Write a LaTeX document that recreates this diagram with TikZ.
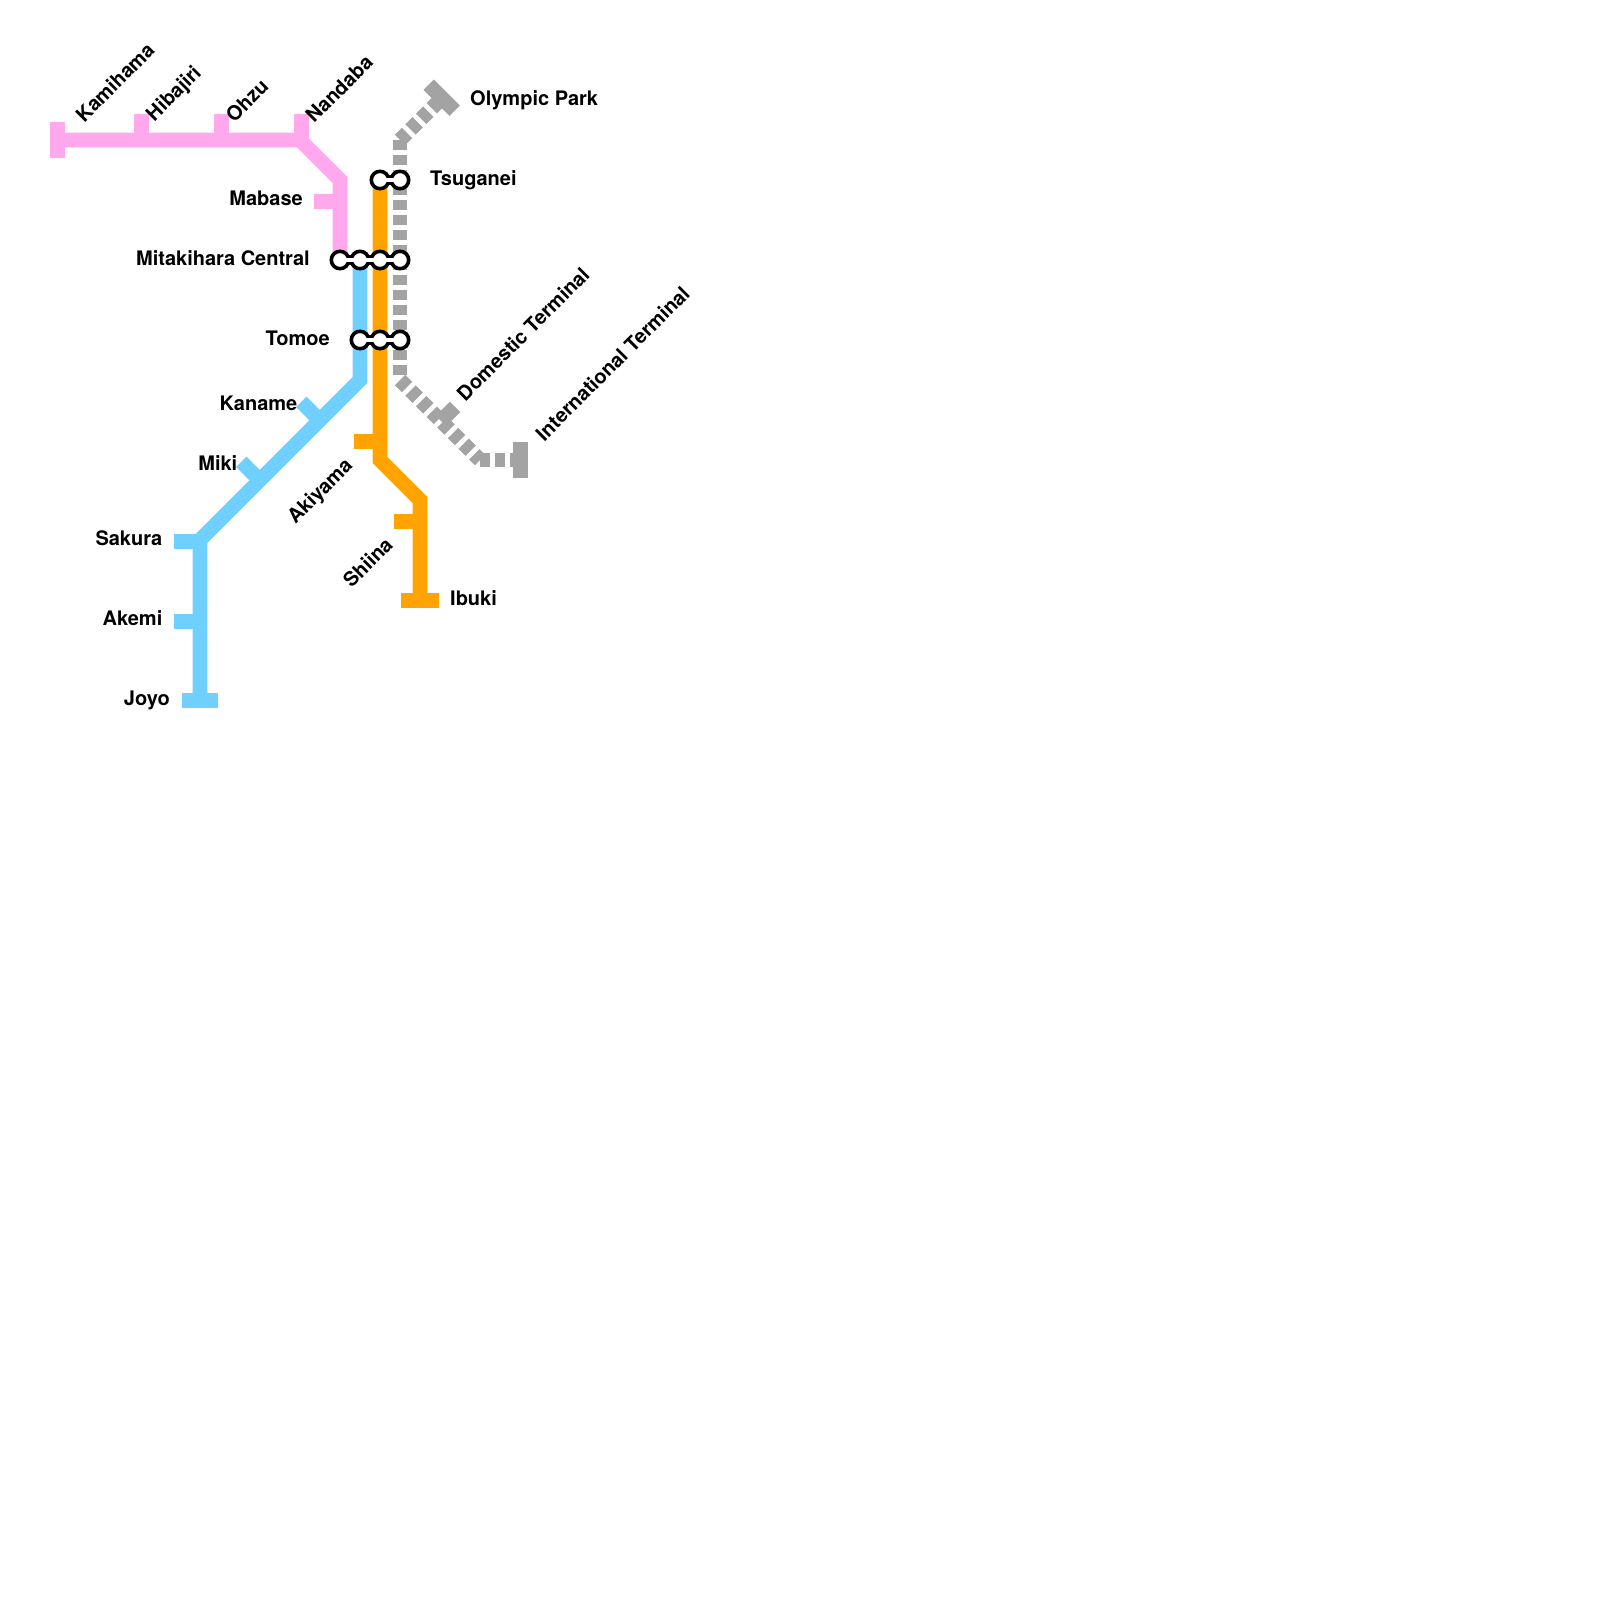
\documentclass[tikz,border=0pt]{standalone}
\usepackage{fontspec}
\setmainfont{TeX Gyre Heros}
\definecolor{pinkline}{HTML}{FFA8EE}
\definecolor{blueline}{HTML}{6FCFFF}
\definecolor{orangeline}{HTML}{FFA300}
\definecolor{grayline}{HTML}{A3A3A3}
\tikzset{
  x=1pt,y=-1pt,
  route/.style={line width=14.7pt,line join=miter,line cap=butt},
  pinkr/.style={route,draw=pinkline},
  bluer/.style={route,draw=blueline},
  oranger/.style={route,draw=orangeline},
  grayr/.style={route,draw=grayline,dash pattern=on 10pt off 5pt},
  grayt/.style={route,draw=grayline},
  hub/.style={circle,draw=black,fill=white,line width=3.6pt,minimum size=17.4pt,inner sep=0pt},
  neckout/.style={line width=10.5pt,draw=black},
  neckin/.style={line width=3.4pt,draw=white},
  lab/.style={inner sep=0pt,font=\fontsize{20pt}{22pt}\selectfont\bfseries,text=black},
  up/.style={lab,anchor=west,rotate=45},
}
\begin{document}
\begin{tikzpicture}
\useasboundingbox (0,0) rectangle (1600,1600);
% named coordinates
\coordinate (p0) at (60,140);\coordinate (p1) at (300,140);\coordinate (p2) at (340,180);\coordinate (p3) at (340,260);
\coordinate (b0) at (360,260);\coordinate (b1) at (360,380);\coordinate (b2) at (200,540);\coordinate (b3) at (200,700);
\coordinate (o0) at (380,180);\coordinate (o1) at (380,460);\coordinate (o2) at (420,500);\coordinate (o3) at (420,600);
\coordinate (g0) at (440,100);\coordinate (g1) at (400,140);\coordinate (g2) at (400,380);\coordinate (g3) at (480,460);\coordinate (g4) at (520,460);
% gray line
\draw[grayr] (g1) -- (g0);
\draw[grayr] (g1) -- (g2);
\draw[grayr] (g2) -- (g3);
\draw[grayr] (g3) -- (g4);
\draw[grayt] (428.7,84.7) -- (454.7,110.7);
\draw[grayt] (441,421) -- (455,407);
\draw[grayt] (520.5,441.7) -- (520.5,478.3);
% pink
\draw[pinkr] (p0) -- (p1) -- (p2) -- (p3);
\draw[pinkr] (57.5,121.7) -- (57.5,158.3);
\draw[pinkr] (141.3,114) -- (141.3,140);
\draw[pinkr] (221.3,114) -- (221.3,140);
\draw[pinkr] (301.3,114) -- (301.3,140);
\draw[pinkr] (314,201.3) -- (340,201.3);
% blue
\draw[bluer] (b0) -- (b1) -- (b2) -- (b3);
\draw[bluer] (301.3,401.7) -- (319.8,420.2);
\draw[bluer] (241.3,461.7) -- (259.8,480.2);
\draw[bluer] (174,541.3) -- (200,541.3);
\draw[bluer] (174,621.3) -- (200,621.3);
\draw[bluer] (181.7,700.6) -- (218.3,700.6);
% orange
\draw[oranger] (o0) -- (o1) -- (o2) -- (o3);
\draw[oranger] (354,441.3) -- (380,441.3);
\draw[oranger] (394,521.3) -- (420,521.3);
\draw[oranger] (401.3,600.5) -- (438.7,600.5);
% hubs
\coordinate (t1c) at (380,180);\coordinate (t2c) at (400,180);
\coordinate (m1c) at (340,260);\coordinate (m2c) at (360,260);\coordinate (m3c) at (380,260);\coordinate (m4c) at (400,260);
\coordinate (c1c) at (360,340);\coordinate (c2c) at (380,340);\coordinate (c3c) at (400,340);
\draw[neckout] (t1c) -- (t2c);
\draw[neckout] (m1c) -- (m4c);
\draw[neckout] (c1c) -- (c3c);
\node[hub] (t1) at (t1c) {};\node[hub] (t2) at (t2c) {};
\node[hub] (m1) at (m1c) {};\node[hub] (m2) at (m2c) {};\node[hub] (m3) at (m3c) {};\node[hub] (m4) at (m4c) {};
\node[hub] (c1) at (c1c) {};\node[hub] (c2) at (c2c) {};\node[hub] (c3) at (c3c) {};
\draw[neckin] (t1.center) -- (t2.center);
\draw[neckin] (m1.center) -- (m4.center);
\draw[neckin] (c1.center) -- (c3.center);
% labels
\node[up] (lKamihama) at (79,118) {Kamihama};
\node[up] (lHibajiri) at (150.5,118.5) {Hibajiri};
\node[up] (lOhzu) at (229,118) {Ohzu};
\node[up] (lNandaba) at (309,119) {Nandaba};
\node[up] (lDomestic) at (460,397) {Domestic Terminal};
\node[up] (lIntl) at (539,437) {International Terminal};
\node[lab,anchor=east] (lMabase) at (303,198) {Mabase};
\node[lab,anchor=east] (lMita) at (310,258) {Mitakihara Central};
\node[lab,anchor=east] (lTomoe) at (330,338) {Tomoe};
\node[lab,anchor=east] (lKaname) at (297.5,403) {Kaname};
\node[lab,anchor=east] (lMiki) at (237.5,463) {Miki};
\node[lab,anchor=east] (lSakura) at (162.5,538) {Sakura};
\node[lab,anchor=east] (lAkemi) at (162.5,618) {Akemi};
\node[lab,anchor=east] (lJoyo) at (170,700) {Joyo};
\node[lab,anchor=west] (lOlympic) at (470,100) {Olympic Park};
\node[lab,anchor=west] (lTsuganei) at (430,180) {Tsuganei};
\node[lab,anchor=west] (lIbuki) at (450,598) {Ibuki};
\node[lab,anchor=east,rotate=45] (lAkiyama) at (350,463) {Akiyama};
\node[lab,anchor=east,rotate=45] (lShiina) at (389,541) {Shiina};
\end{tikzpicture}
\end{document}
